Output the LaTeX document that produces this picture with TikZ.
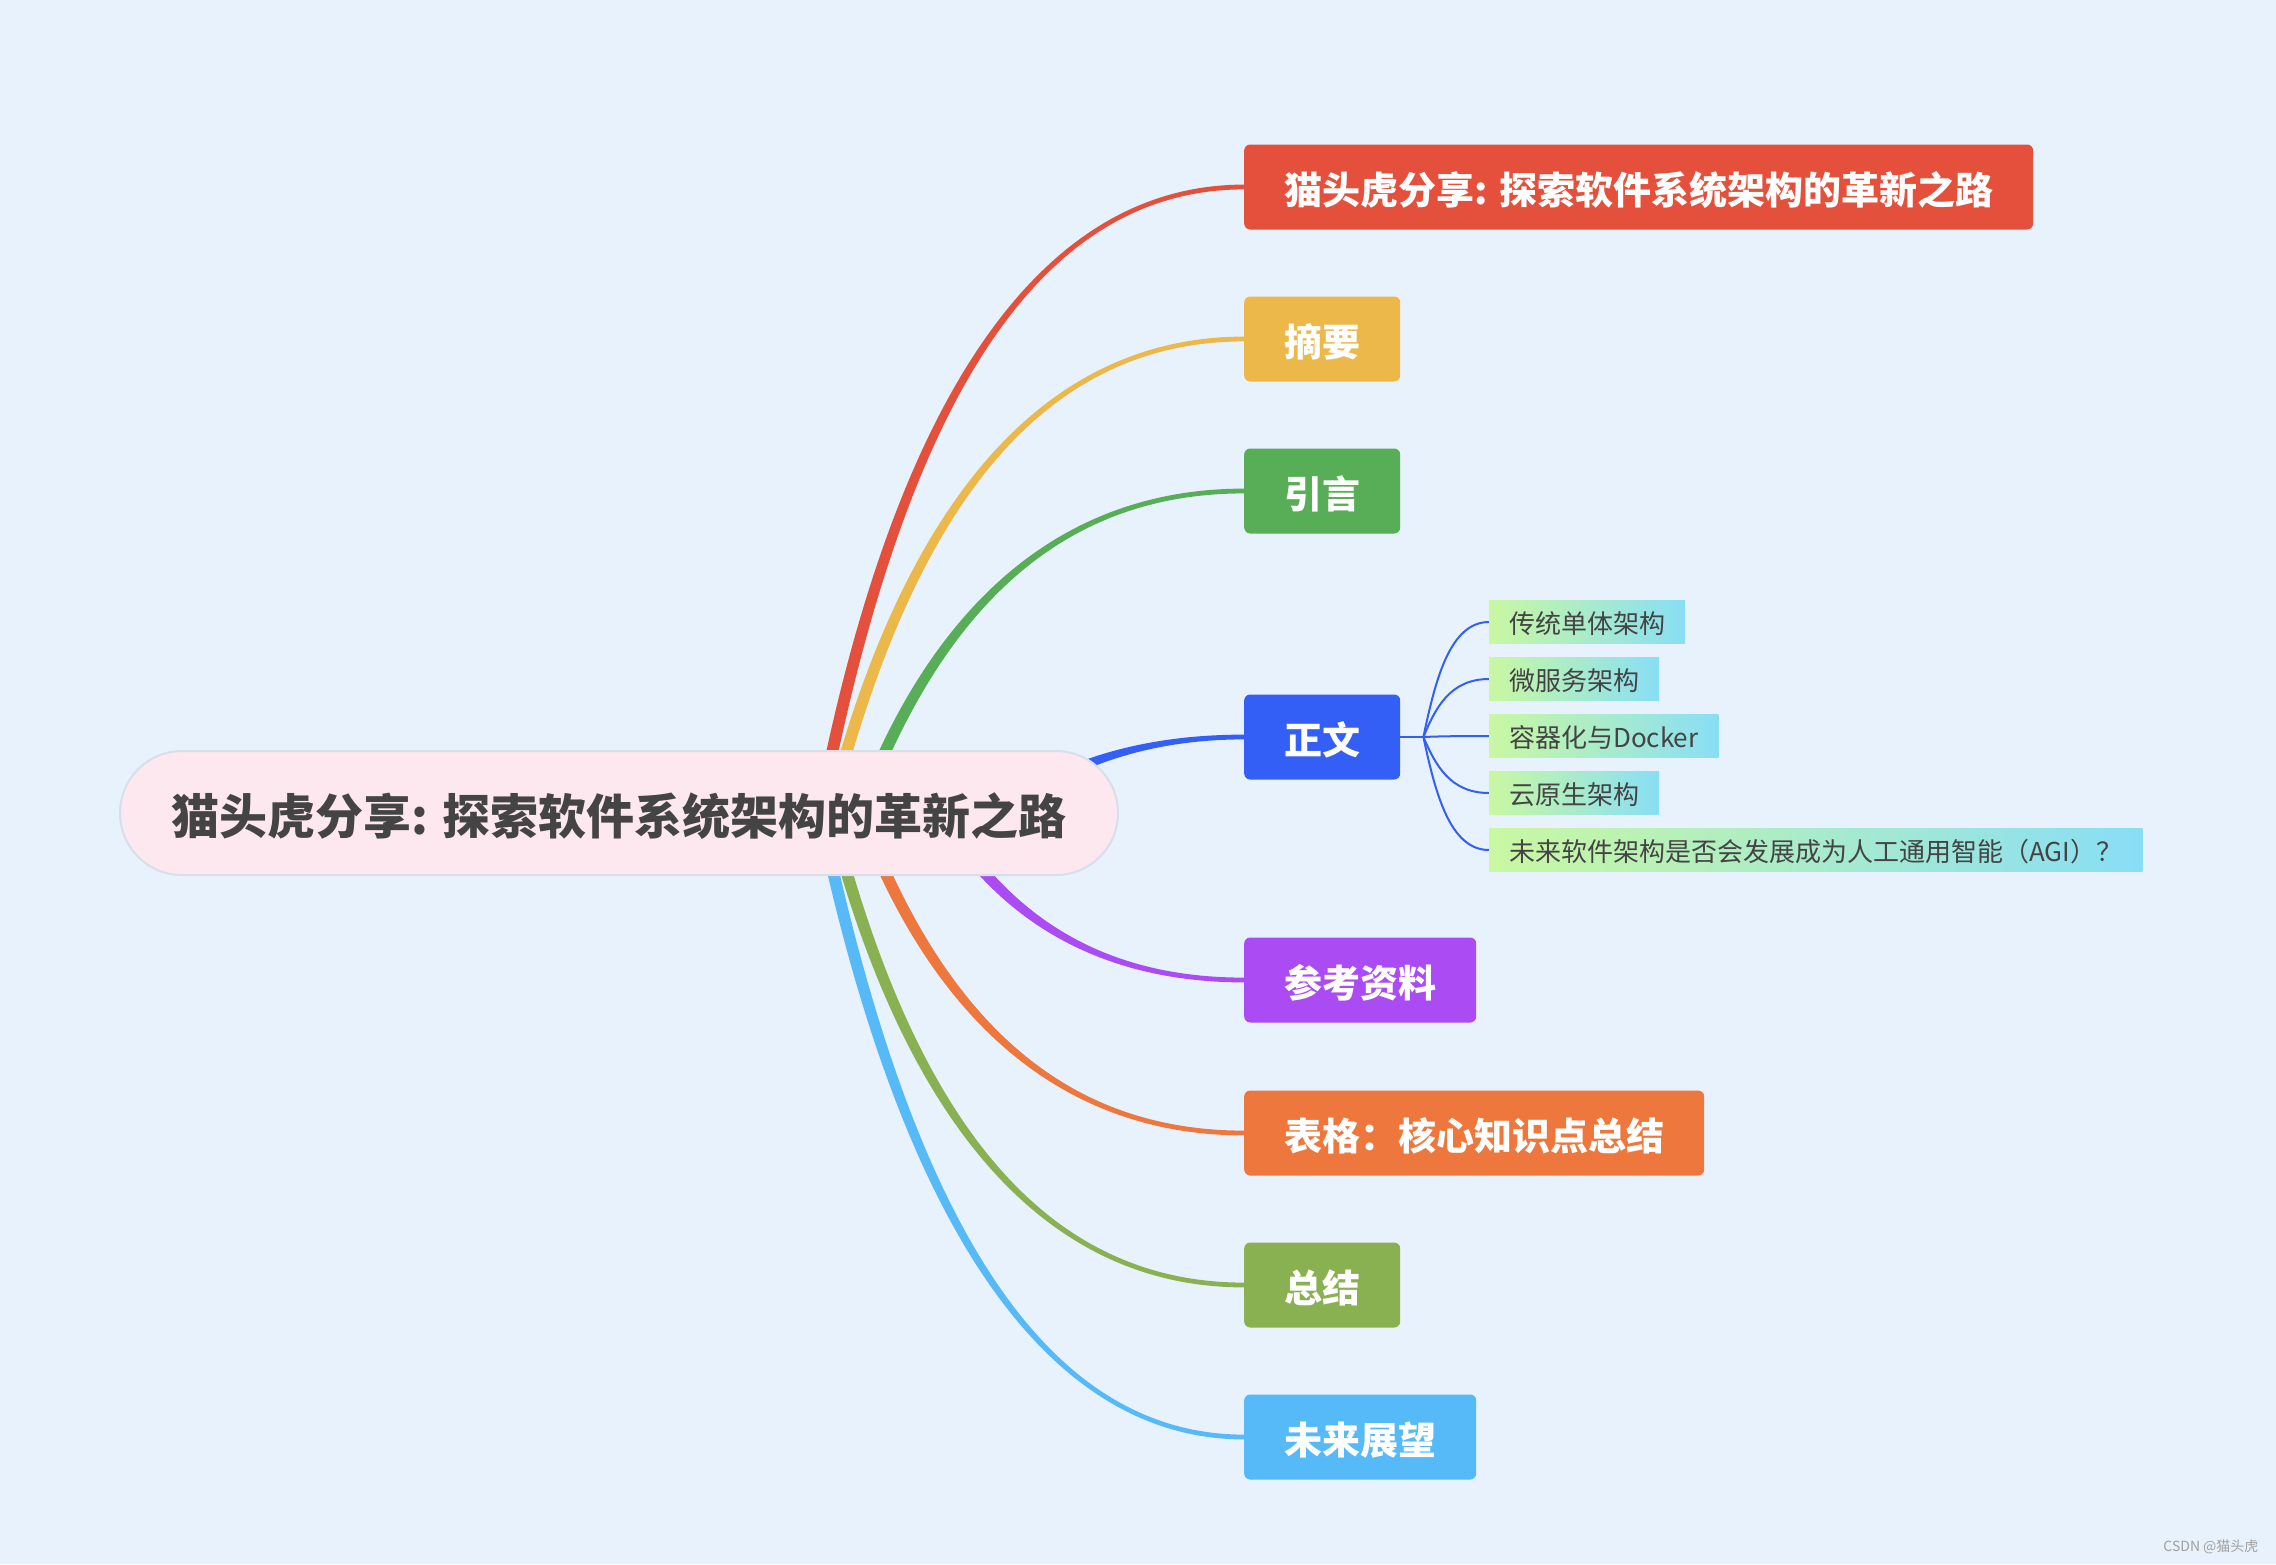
\documentclass[tikz,border=0pt]{standalone}
\usepackage{fontspec}
\setmainfont{Noto Sans CJK SC}
\usetikzlibrary{calc}
\pgfdeclarelayer{bg}
\pgfsetlayers{bg,main}
\definecolor{bgc}{HTML}{E8F2FD}
\definecolor{rootfill}{HTML}{FCE8EE}
\definecolor{rootline}{HTML}{D8DEEA}
\definecolor{rootText}{HTML}{444444}
\definecolor{cRed}{HTML}{E5503C}
\definecolor{cYellow}{HTML}{ECB84A}
\definecolor{cGreen}{HTML}{57AE57}
\definecolor{cBlue}{HTML}{335FF6}
\definecolor{cPurple}{HTML}{AA4BF4}
\definecolor{cOrange}{HTML}{EE773D}
\definecolor{cOlive}{HTML}{89B152}
\definecolor{cSky}{HTML}{56B9F8}
\definecolor{leafL}{HTML}{C9F8A2}
\definecolor{leafR}{HTML}{88DEF5}
\definecolor{markc}{HTML}{A0A0A0}
% tapered branch: colour, start x, control x, target node
\newcommand\mmcurve[4]{%
  \coordinate (mmS) at (#2,812);
  \coordinate (mmE) at (#4.west);
  \coordinate (mmK) at (#3,0 |- mmE);
  \coordinate (mmCa) at ($(mmS)!2/3!(mmK)$);
  \coordinate (mmCb) at ($(mmE)!2/3!(mmK)$);
  \coordinate (mmL) at ($(mmS)!6pt!90:(mmK)$);
  \coordinate (mmR) at ($(mmS)!6pt!-90:(mmK)$);
  \fill[#1] (mmL) .. controls ($(mmCa)+(mmL)-(mmS)$) and ($(mmCb)+(0,-2.4)$) .. ($(mmE)+(0,-2.4)$)
    -- ($(mmE)+(0,2.4)$) .. controls ($(mmCb)+(0,2.4)$) and ($(mmCa)+(mmR)-(mmS)$) .. (mmR) -- cycle;
}
\newcommand\mmsub[1]{%
  \draw[subline] (fork) .. controls ($(fork)!.5!(fork |- #1.west)+(12,0)$) and ($(#1.west)+(-39,0)$) .. (#1.west);
}
\begin{document}
\begin{tikzpicture}[x=1pt,y=-1pt,
  rootbox/.style={draw=rootline, line width=2pt, fill=rootfill, rounded corners=62pt,
    minimum width=998pt, minimum height=124pt, inner sep=0pt, text=rootText,
    text height=48pt, text depth=5.6pt,
    font=\fontsize{48}{52}\selectfont\bfseries},
  topic/.style={rounded corners=6pt, minimum height=85pt, inner xsep=40pt, inner ysep=0pt,
    text height=40pt, text depth=5pt,
    text=white, anchor=west, font=\fontsize{38}{42}\selectfont\bfseries},
  leaf/.style={left color=leafL, right color=leafR, minimum height=43pt, inner xsep=20pt,
    inner ysep=0pt, text height=27pt, text depth=3.2pt,
    text=rootText, anchor=west, font=\fontsize{26}{30}\selectfont},
  subline/.style={draw=cBlue, line width=2pt}]
\begin{pgfonlayer}{bg}
\fill[bgc] (0,0) rectangle (2276,1564);
\end{pgfonlayer}
\useasboundingbox (0,0) rectangle (2276,1564);

\node[rootbox] (root) at (619,813) {猫头虎分享: 探索软件系统架构的革新之路};

\node[topic, fill=cRed] (t1) at (1244,187) {猫头虎分享: 探索软件系统架构的革新之路};
\node[topic, fill=cYellow] (t2) at (1244,339) {摘要};
\node[topic, fill=cGreen] (t3) at (1244,491) {引言};
\node[topic, fill=cBlue] (t4) at (1244,737) {正文};
\node[topic, fill=cPurple] (t5) at (1244,980) {参考资料};
\node[topic, fill=cOrange] (t6) at (1244,1133) {表格：核心知识点总结};
\node[topic, fill=cOlive] (t7) at (1244,1285) {总结};
\node[topic, fill=cSky] (t8) at (1244,1437) {未来展望};

\node[leaf] (c1) at (1489,622) {传统单体架构};
\node[leaf] (c2) at (1489,679) {微服务架构};
\node[leaf] (c3) at (1489,736) {容器化与Docker};
\node[leaf] (c4) at (1489,793) {云原生架构};
\node[leaf] (c5) at (1489,850) {未来软件架构是否会发展成为人工通用智能（AGI）？};

\node[text=markc, anchor=east, font=\fontsize{14}{16}\selectfont] (wm) at (2262,1547) {CSDN @猫头虎};

\begin{pgfonlayer}{bg}
\mmcurve{cRed}{820}{940}{t1}
\mmcurve{cYellow}{830}{950}{t2}
\mmcurve{cGreen}{860}{980}{t3}
\mmcurve{cBlue}{1000}{1100}{t4}
\mmcurve{cPurple}{940}{1040}{t5}
\mmcurve{cOrange}{860}{980}{t6}
\mmcurve{cOlive}{830}{950}{t7}
\mmcurve{cSky}{820}{950}{t8}
\coordinate (fork) at ($(t4.east)+(23,0)$);
\draw[subline] (t4.east) -- (fork);
\mmsub{c1}
\mmsub{c2}
\mmsub{c3}
\mmsub{c4}
\mmsub{c5}
\end{pgfonlayer}
\end{tikzpicture}
\end{document}
